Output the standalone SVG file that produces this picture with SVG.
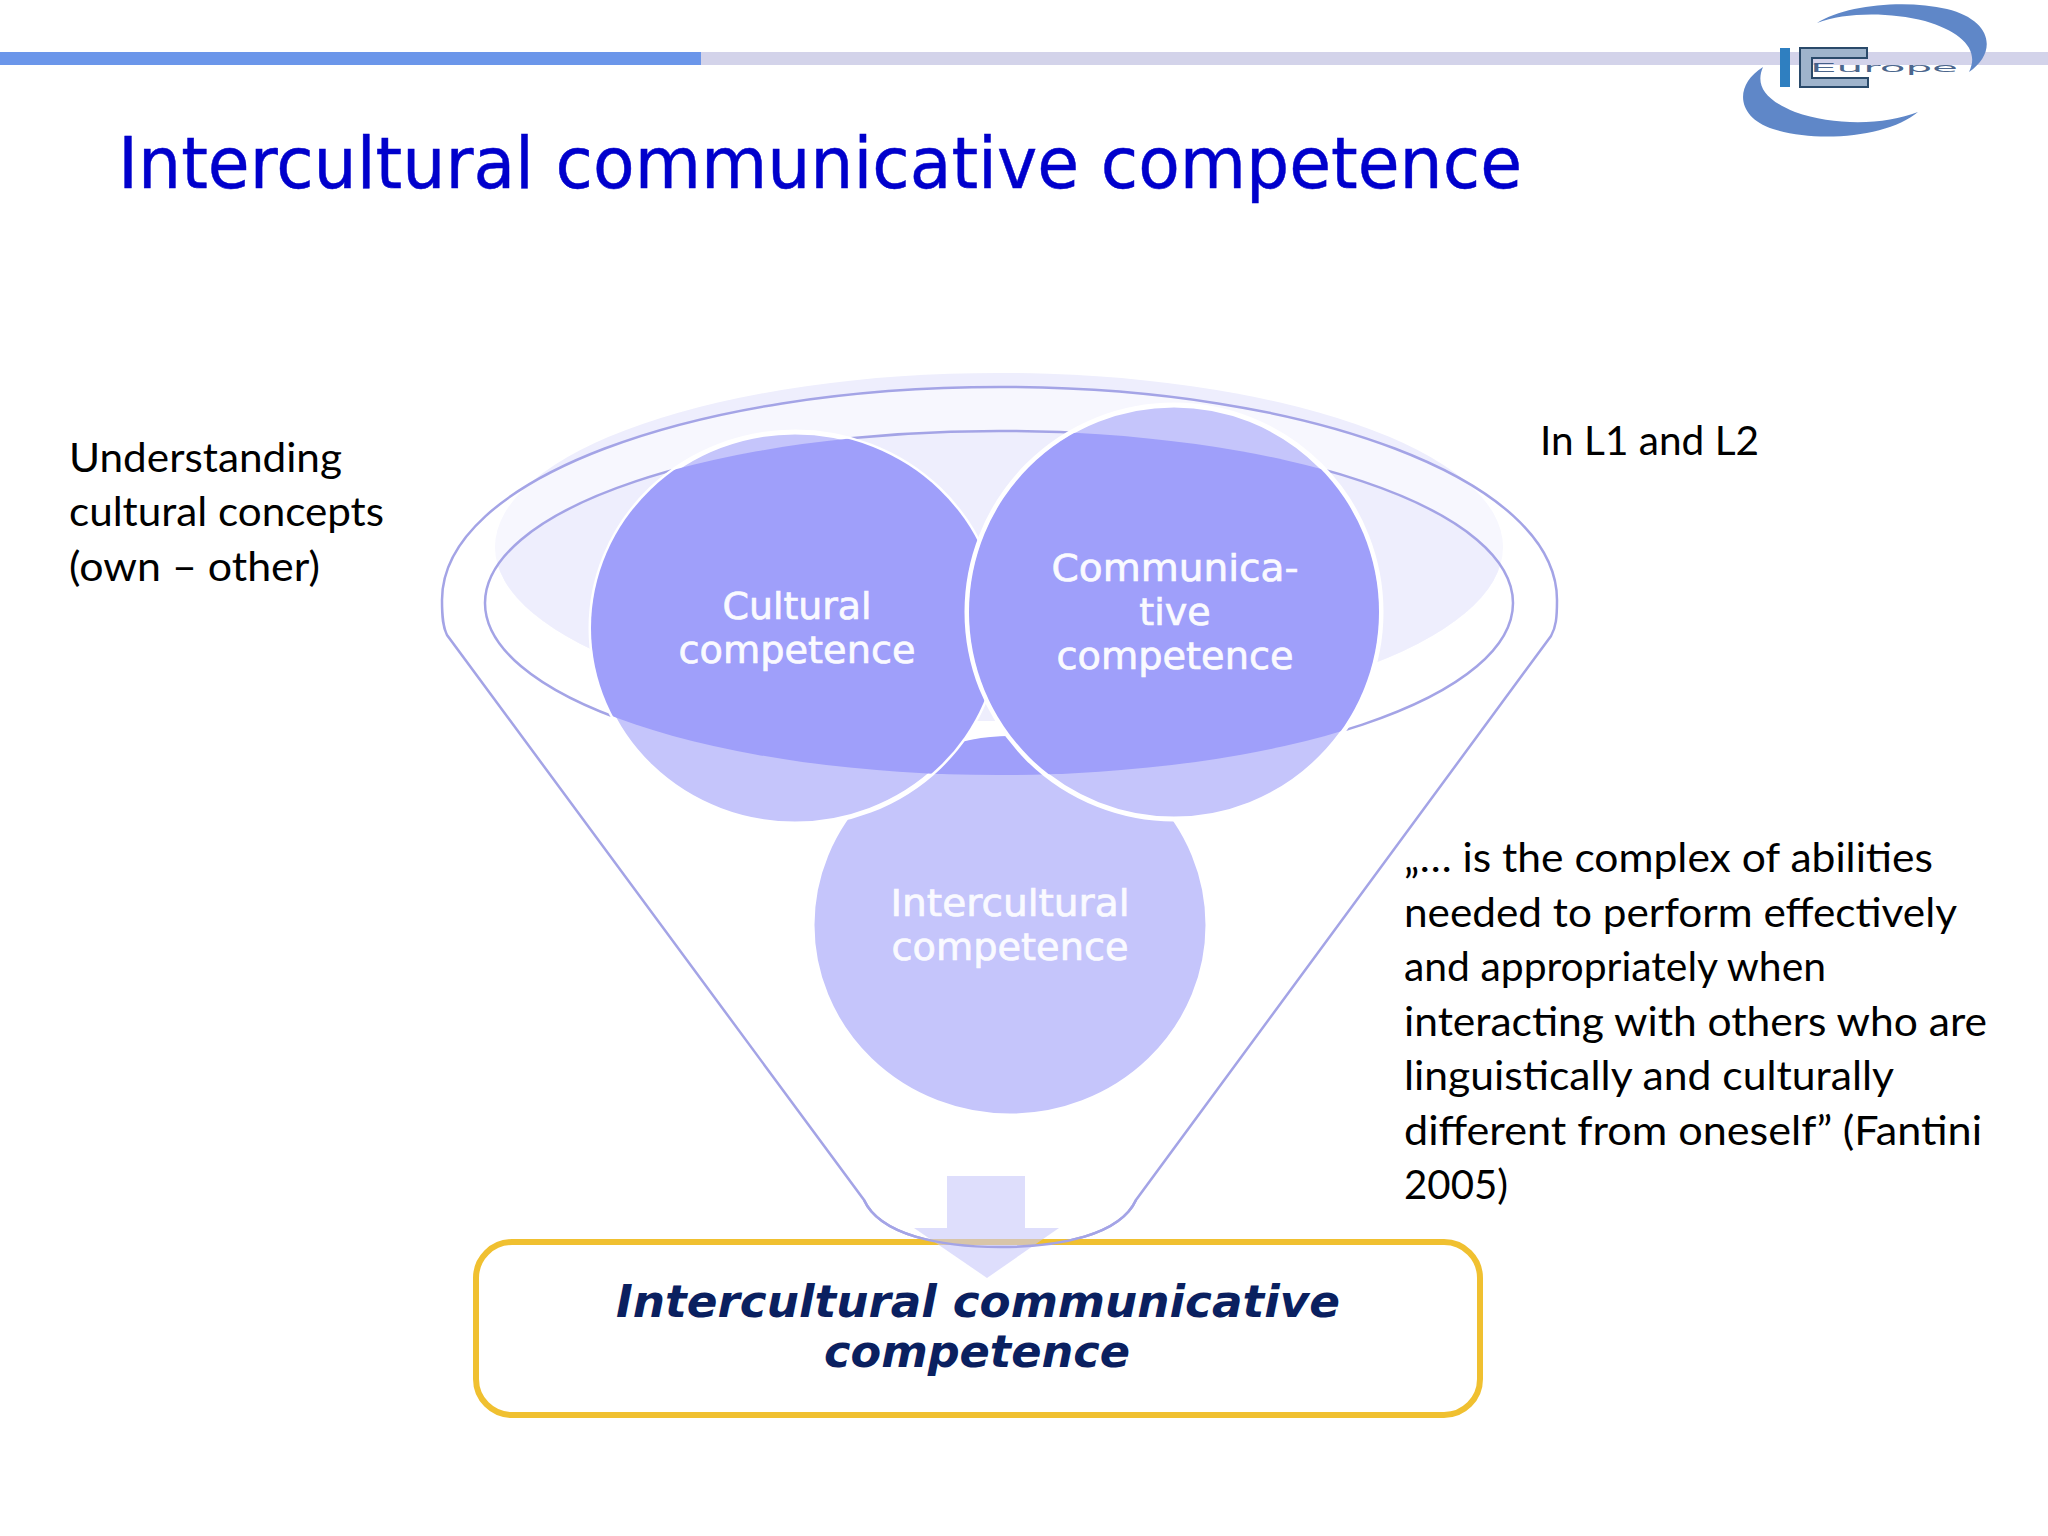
<svg xmlns="http://www.w3.org/2000/svg" width="2048" height="1536" viewBox="0 0 2048 1536">
<style>
.body{font-family:"Lato","Liberation Sans",sans-serif;font-size:41px;fill:#000}
.lbl{font-family:"DejaVu Sans","Liberation Sans",sans-serif;font-size:38px;fill:#fafaff;stroke:#fafaff;stroke-width:.7;text-anchor:middle}
.ttl{font-family:"DejaVu Sans","Liberation Sans",sans-serif;font-size:72px;fill:#0000cc;stroke:#0000cc;stroke-width:.5}
.res{font-family:"DejaVu Sans","Liberation Sans",sans-serif;font-size:45px;font-weight:bold;font-style:italic;fill:#0a2060;text-anchor:middle}
.lite{fill:#c5c5fb;stroke:#fff;stroke-width:5}
.dark{fill:#9f9ffa}
</style>
<defs>
<clipPath id="inner"><ellipse cx="999" cy="603" rx="514" ry="172"/></clipPath>
<clipPath id="pale"><ellipse cx="999" cy="547" rx="504" ry="174"/></clipPath>
</defs>
<rect width="2048" height="1536" fill="#fff"/>
<g id="topbar">
<rect x="701" y="52" width="1347" height="13" fill="#d3d3ea"/>
<rect x="0" y="52" width="701" height="13" fill="#6b96ea"/>
</g>
<g id="logo">
<path d="M1817 23C1845 5 1905 -1 1947 9C1992 20 1998 52 1969 72C1980 50 1962 32 1925 21C1890 12 1845 12 1817 23Z" fill="#5f87c8"/>
<path d="M1763 67C1734 85 1736 117 1773 129C1820 144 1890 136 1918 112C1885 125 1835 126 1795 112C1765 100 1755 85 1763 67Z" fill="#5f87c8"/>
<rect x="1780" y="48" width="10" height="39" fill="#2f7fc0"/>
<path d="M1867 48H1800V87H1868V78H1812V58H1867Z" fill="#9fb4cc" stroke="#2a4a6a" stroke-width="2"/>
<text x="1810" y="72" font-family="DejaVu Sans, sans-serif" font-size="13" fill="#2a4a78" fill-opacity=".85" textLength="148" lengthAdjust="spacingAndGlyphs">Europe</text>
</g>
<g id="title"><text class="ttl" x="118" y="188" textLength="1404" lengthAdjust="spacingAndGlyphs">Intercultural communicative competence</text></g>
<g id="funnel">
<ellipse cx="999" cy="547" rx="504" ry="174" fill="#eeeefd"/>
<path d="M442 600C442 480 690 387 1000 387C1310 387 1557 480 1557 600C1557 618 1556 627 1551 636L1136 1200C1120 1235 1060 1247 1000 1247C940 1247 880 1235 864 1200L447 635C443 627 442 618 442 600Z" fill="#fff" fill-opacity=".5" stroke="#a4a4e6" stroke-width="2.5"/>
<g clip-path="url(#pale)"><ellipse cx="999" cy="603" rx="514" ry="172" fill="#eeeefd"/></g>
<ellipse cx="999" cy="603" rx="514" ry="172" fill="none" stroke="#a4a4e6" stroke-width="2.5"/>
</g>
<g id="intercultural">
<ellipse class="lite" cx="1010" cy="925" rx="198" ry="191"/>
<g clip-path="url(#inner)"><ellipse class="dark" cx="1010" cy="925" rx="198" ry="189"/></g>
<text class="lbl" x="1010" y="916" textLength="239" lengthAdjust="spacingAndGlyphs">Intercultural</text>
<text class="lbl" x="1010" y="960" textLength="237" lengthAdjust="spacingAndGlyphs">competence</text>
</g>
<g id="cultural">
<ellipse class="lite" cx="795" cy="628" rx="204" ry="196"/>
<g clip-path="url(#inner)"><ellipse class="dark" cx="795" cy="628" rx="204" ry="196"/></g>
<text class="lbl" x="797" y="619" textLength="149" lengthAdjust="spacingAndGlyphs">Cultural</text>
<text class="lbl" x="797" y="663" textLength="237" lengthAdjust="spacingAndGlyphs">competence</text>
</g>
<g id="communicative">
<circle class="lite" cx="1174" cy="612" r="207"/>
<g clip-path="url(#inner)"><circle class="dark" cx="1174" cy="612" r="205"/></g>
<text class="lbl" x="1175" y="581" textLength="247" lengthAdjust="spacingAndGlyphs">Communica-</text>
<text class="lbl" x="1175" y="625">tive</text>
<text class="lbl" x="1175" y="669" textLength="237" lengthAdjust="spacingAndGlyphs">competence</text>
</g>
<g id="result">
<rect x="476" y="1242" width="1004" height="173" rx="36" fill="#fff" stroke="#f0c030" stroke-width="6"/>
<text class="res" x="978" y="1317" textLength="724" lengthAdjust="spacingAndGlyphs">Intercultural communicative</text>
<text class="res" x="977" y="1367" textLength="306" lengthAdjust="spacingAndGlyphs">competence</text>
</g>
<g id="connectors">
<path d="M947 1176H1025V1228H1059L987 1278L914 1228H947Z" fill="#c8c8fa" fill-opacity=".6"/>
<path d="M864 1200C880 1235 940 1247 1000 1247C1060 1247 1120 1235 1136 1200" fill="none" stroke="#a4a4e6" stroke-width="2.5"/>
</g>
<g id="notes">
<text class="body" x="69" y="472" textLength="273" lengthAdjust="spacingAndGlyphs">Understanding</text>
<text class="body" x="69" y="526" textLength="315" lengthAdjust="spacingAndGlyphs">cultural concepts</text>
<text class="body" x="69" y="581" textLength="251" lengthAdjust="spacingAndGlyphs">(own – other)</text>
<text class="body" x="1540" y="455" textLength="219" lengthAdjust="spacingAndGlyphs">In L1 and L2</text>
<text class="body" x="1404" y="872" textLength="529" lengthAdjust="spacingAndGlyphs">„… is the complex of abilities</text>
<text class="body" x="1404" y="927" textLength="553" lengthAdjust="spacingAndGlyphs">needed to perform effectively</text>
<text class="body" x="1404" y="981" textLength="422" lengthAdjust="spacingAndGlyphs">and appropriately when</text>
<text class="body" x="1404" y="1036" textLength="583" lengthAdjust="spacingAndGlyphs">interacting with others who are</text>
<text class="body" x="1404" y="1090" textLength="490" lengthAdjust="spacingAndGlyphs">linguistically and culturally</text>
<text class="body" x="1404" y="1145" textLength="578" lengthAdjust="spacingAndGlyphs">different from oneself” (Fantini</text>
<text class="body" x="1404" y="1199" textLength="104" lengthAdjust="spacingAndGlyphs">2005)</text>
</g>
</svg>
